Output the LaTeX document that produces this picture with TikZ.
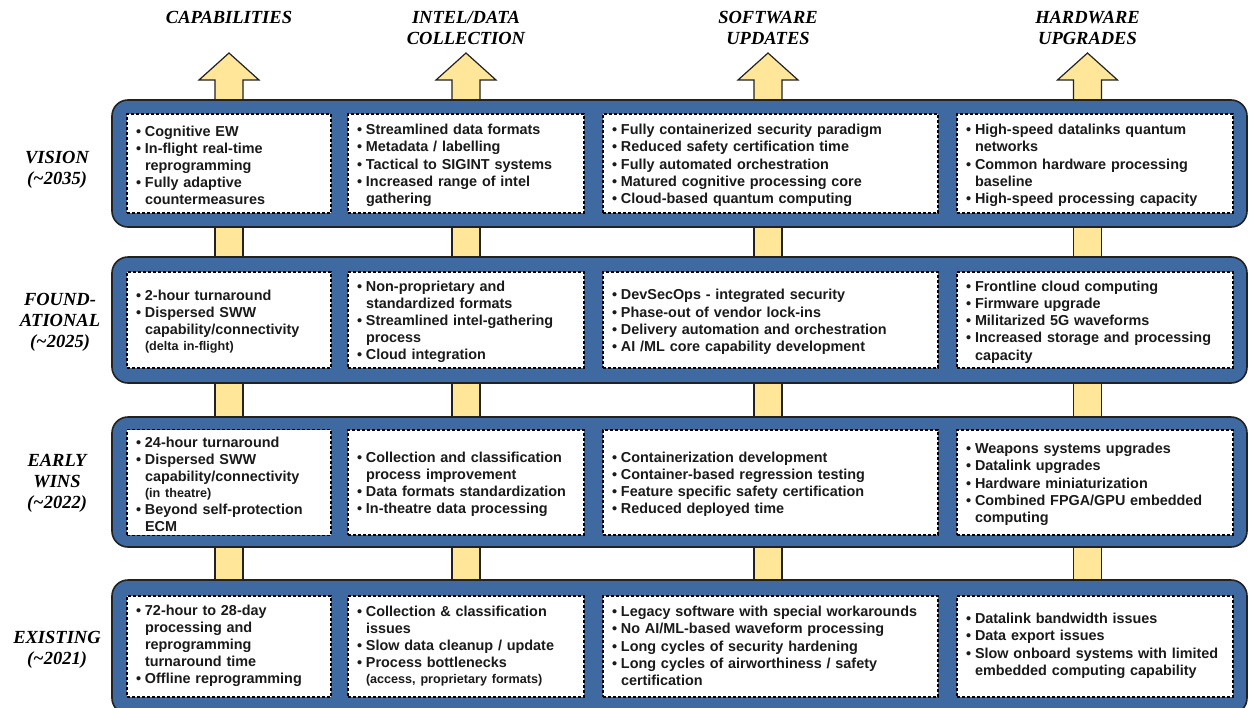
\documentclass[tikz,border=0pt]{standalone}
\usepackage{fontspec}
\setmainfont{Liberation Sans}
\newfontfamily\headfont{Liberation Serif}
\usetikzlibrary{calc}

\definecolor{bandblue}{HTML}{3F69A1}
\definecolor{arrowyellow}{HTML}{FFE699}
\definecolor{edgecol}{HTML}{222222}
\definecolor{txt}{HTML}{1A1A1A}

% bullet item with hanging indent
\newlength\bulw
\setlength\bulw{9pt}
\newcommand\itm{\par\noindent\hangindent=\bulw\hangafter=1\makebox[\bulw][l]{\textbullet}}
% smaller continuation line, indented like the item text
\newcommand\smallnote[1]{\par{\fontsize{12.6}{16}\selectfont\noindent\hspace*{\bulw}#1\par}}

\tikzset{
  band/.style={draw=edgecol, line width=1.6pt, fill=bandblue, rounded corners=16pt,
    minimum width=1135pt, inner sep=0pt},
  cell/.style={draw=black, line width=1.1pt, dash pattern=on 3pt off 2pt, fill=white,
    inner xsep=9pt, inner ysep=0pt, text=txt,
    font=\bfseries\fontsize{14.4}{17.2}\selectfont},
  head/.style={font=\headfont\bfseries\itshape\fontsize{18.5}{21}\selectfont,
    align=center, text=black, inner sep=0pt},
  shaft/.style={fill=arrowyellow, draw=edgecol, line width=1.2pt},
}

\begin{document}
\begin{tikzpicture}[x=1pt, y=-1pt]
\useasboundingbox (0,0) rectangle (1249,707);

% column headers
\node[head] (hC) at (229,17)   {CAPABILITIES};
\node[head] (hI) at (466,27.5) {INTEL/DATA\\COLLECTION};
\node[head] (hS) at (768,27.5) {SOFTWARE\\UPDATES};
\node[head] (hH) at (1087.5,27.5) {HARDWARE\\UPGRADES};

% upward arrows and links between the bands
\foreach \c in {229,466,768,1087.5} {
  \draw[shaft] (\c-14,106) -- (\c-14,80) -- (\c-30,80) -- (\c,53)
    -- (\c+30,80) -- (\c+14,80) -- (\c+14,106);
  \draw[shaft] (\c-14,220) rectangle (\c+14,264);
  \draw[shaft] (\c-14,376) rectangle (\c+14,424);
  \draw[shaft] (\c-14,540) rectangle (\c+14,587);
}

% bands
\node[band, minimum height=127pt] (bV) at (679.5,163.5) {};
\node[band, minimum height=126pt] (bF) at (679.5,320) {};
\node[band, minimum height=130pt] (bE) at (679.5,482) {};
\node[band, minimum height=134pt] (bX) at (679.5,647) {};

% row labels
\node[head] (lV) at (57,170) {VISION\\(\textasciitilde2035)};
\node[head] (lF) at (60,322) {FOUND-\\ATIONAL\\(\textasciitilde2025)};
\node[head] (lE) at (57,483) {EARLY\\WINS\\(\textasciitilde2022)};
\node[head] (lX) at (57,650) {EXISTING\\(\textasciitilde2021)};

% ---- VISION
\node[cell, text width=186pt, minimum width=204pt, minimum height=99pt] (V1) at (229,163.5) {\raggedright
  \itm Cognitive EW
  \itm In-flight real-time\newline reprogramming
  \itm Fully adaptive\newline countermeasures\par\vspace*{3pt}};
\node[cell, text width=218pt, minimum width=236pt, minimum height=99pt] (V2) at (466,163.5) {\raggedright
  \itm Streamlined data formats
  \itm Metadata / labelling
  \itm Tactical to SIGINT systems
  \itm Increased range of intel\newline gathering\par\vspace*{3pt}};
\node[cell, text width=317pt, minimum width=335pt, minimum height=99pt] (V3) at (770.5,163.5) {\raggedright
  \itm Fully containerized security paradigm
  \itm Reduced safety certification time
  \itm Fully automated orchestration
  \itm Matured cognitive processing core
  \itm Cloud-based quantum computing\par\vspace*{3pt}};
\node[cell, text width=258pt, minimum width=276pt, minimum height=99pt] (V4) at (1095,163.5) {\raggedright
  \itm High-speed datalinks quantum\newline networks
  \itm Common hardware processing\newline baseline
  \itm High-speed processing capacity\par\vspace*{3pt}};

% ---- FOUNDATIONAL
\node[cell, text width=186pt, minimum width=204pt, minimum height=96pt] (F1) at (229,320) {\raggedright
  \itm 2-hour turnaround
  \itm Dispersed SWW\newline capability/connectivity
  \smallnote{(delta in-flight)}\vspace*{3pt}};
\node[cell, text width=218pt, minimum width=236pt, minimum height=96pt] (F2) at (466,320) {\raggedright
  \itm Non-proprietary and\newline standardized formats
  \itm Streamlined intel-gathering\newline process
  \itm Cloud integration\par\vspace*{3pt}};
\node[cell, text width=317pt, minimum width=335pt, minimum height=96pt] (F3) at (770.5,320) {\raggedright
  \itm DevSecOps - integrated security
  \itm Phase-out of vendor lock-ins
  \itm Delivery automation and orchestration
  \itm AI /ML core capability development\par\vspace*{3pt}};
\node[cell, text width=258pt, minimum width=276pt, minimum height=96pt] (F4) at (1095,320) {\raggedright
  \itm Frontline cloud computing
  \itm Firmware upgrade
  \itm Militarized 5G waveforms
  \itm Increased storage and processing\newline capacity\par\vspace*{3pt}};

% ---- EARLY WINS
\node[cell, text width=186pt, minimum width=204pt, minimum height=105pt] (E1) at (229,482.5) {\raggedright
  \itm 24-hour turnaround
  \itm Dispersed SWW\newline capability/connectivity
  \smallnote{(in theatre)}
  \itm Beyond self-protection\newline ECM\par\vspace*{3pt}};
\node[cell, text width=218pt, minimum width=236pt, minimum height=105pt] (E2) at (466,482.5) {\raggedright
  \itm Collection and classification\newline process improvement
  \itm Data formats standardization
  \itm In-theatre data processing\par\vspace*{3pt}};
\node[cell, text width=317pt, minimum width=335pt, minimum height=105pt] (E3) at (770.5,482.5) {\raggedright
  \itm Containerization development
  \itm Container-based regression testing
  \itm Feature specific safety certification
  \itm Reduced deployed time\par\vspace*{3pt}};
\node[cell, text width=258pt, minimum width=276pt, minimum height=105pt] (E4) at (1095,482.5) {\raggedright
  \itm Weapons systems upgrades
  \itm Datalink upgrades
  \itm Hardware miniaturization
  \itm Combined FPGA/GPU embedded\newline computing\par\vspace*{3pt}};

% ---- EXISTING
\node[cell, text width=186pt, minimum width=204pt, minimum height=101pt] (X1) at (229,646.5) {\raggedright
  \itm 72-hour to 28-day\newline processing and\newline reprogramming\newline turnaround time
  \itm Offline reprogramming\par\vspace*{8pt}};
\node[cell, text width=218pt, minimum width=236pt, minimum height=101pt] (X2) at (466,646.5) {\raggedright
  \itm Collection \& classification\newline issues
  \itm Slow data cleanup / update
  \itm Process bottlenecks
  \smallnote{(access, proprietary formats)}\vspace*{8pt}};
\node[cell, text width=317pt, minimum width=335pt, minimum height=101pt] (X3) at (770.5,646.5) {\raggedright
  \itm Legacy software with special workarounds
  \itm No AI/ML-based waveform processing
  \itm Long cycles of security hardening
  \itm Long cycles of airworthiness / safety\newline certification\par\vspace*{8pt}};
\node[cell, text width=258pt, minimum width=276pt, minimum height=101pt] (X4) at (1095,646.5) {\raggedright
  \itm Datalink bandwidth issues
  \itm Data export issues
  \itm Slow onboard systems with limited\newline embedded computing capability\par\vspace*{8pt}};

\end{tikzpicture}
\end{document}
